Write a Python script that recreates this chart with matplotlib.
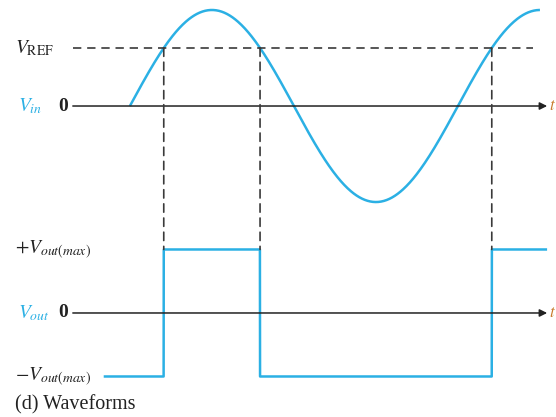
import numpy as np
import matplotlib
matplotlib.use("Agg")
import matplotlib.pyplot as plt
from matplotlib.patches import ConnectionPatch

# waveform parameters (one period = 1.0)
period = 1.0
vin_amp = 1.0
vref = 0.604
vin_start, vin_end = 0.0, 1.25
vout_start, vout_end = -0.076, 1.268
vout_max = 1.0
axis_start, axis_end = -0.174, 1.272

# labels
vin_labels = [r"$V_{\mathrm{REF}}$", r"$V_{in}$"]
vout_labels = [r"$+V_{out(max)}$", r"$V_{out}$", r"$-V_{out(max)}$"]
caption = "(d) Waveforms"

cyan = "#2bb0e4"
dark = "#222222"
dash_col = "#3a3a3a"

plt.rcParams["font.family"] = "Liberation Serif"
plt.rcParams["mathtext.fontset"] = "stix"

t = np.linspace(vin_start, vin_end, 600)
vin = vin_amp * np.sin(2 * np.pi * t / period)

ts = np.linspace(vout_start, vout_end, 3000)
vout = np.where(np.sin(2 * np.pi * ts / period) > vref, vout_max, -vout_max)
vout[ts < 0] = -vout_max

# crossing times where vin = vref
c1 = np.arcsin(vref) / (2 * np.pi) * period
crossings = [c1, period / 2 - c1, period + c1]

fig = plt.figure(figsize=(5.56, 4.17), dpi=100)
xl = (-0.396, 1.299)
ax1 = fig.add_axes([0, 1 - 215 / 417, 1, 215 / 417])
ax2 = fig.add_axes([0, 0, 1, 202 / 417])
ax1.set_xlim(xl)
ax1.set_ylim(-1.135, 1.104)
ax2.set_xlim(xl)
ax2.set_ylim(-1.638, 1.543)
for ax in (ax1, ax2):
    ax.axis("off")

# time axes with arrows
for ax in (ax1, ax2):
    ax.annotate("", xy=(axis_end, 0), xytext=(axis_start, 0),
                arrowprops=dict(arrowstyle="-|>", color=dark, lw=1.1,
                                mutation_scale=11, shrinkA=0, shrinkB=0))

# top: input sine and reference level
ax1.plot(t, vin, color=cyan, lw=1.8, solid_capstyle="butt")
ax1.plot([axis_start, crossings[-1] + 0.125], [vref, vref], color=dash_col,
         lw=1.2, ls=(0, (5, 3.5)))

# bottom: comparator output
ax2.plot(ts, vout, color=cyan, lw=1.8)

# dashed drop lines
for c in crossings:
    con = ConnectionPatch(xyA=(c, vref), coordsA=ax1.transData,
                          xyB=(c, vout_max), coordsB=ax2.transData,
                          color=dash_col, lw=1.2, ls=(0, (5, 3.5)))
    fig.add_artist(con)

fs = 14
tr1 = ax1.get_yaxis_transform()
tr2 = ax2.get_yaxis_transform()
ax1.text(0.027, vref, vin_labels[0], transform=tr1,
         fontsize=fs, va="center", ha="left", color=dark)
ax1.text(0.032, 0, vin_labels[1], transform=tr1,
         fontsize=fs, va="center", ha="left", color=cyan)
ax1.text(0.113, 0, "0", transform=tr1,
         fontsize=fs, va="center", ha="center", color=dark, weight="bold")
ax1.text(1.0, 0, r"$t$", transform=tr1,
         fontsize=fs - 2, va="center", ha="right", color="#c87a2a")

ax2.text(0.027, vout_max, vout_labels[0], transform=tr2,
         fontsize=fs, va="center", ha="left", color=dark)
ax2.text(0.032, 0, vout_labels[1], transform=tr2,
         fontsize=fs, va="center", ha="left", color=cyan)
ax2.text(0.113, 0, "0", transform=tr2,
         fontsize=fs, va="center", ha="center", color=dark, weight="bold")
ax2.text(1.0, 0, r"$t$", transform=tr2,
         fontsize=fs - 2, va="center", ha="right", color="#c87a2a")
ax2.text(0.027, -vout_max, vout_labels[2], transform=tr2,
         fontsize=fs, va="center", ha="left", color=dark)
ax2.text(0.027, -1.45, caption, transform=tr2,
         fontsize=14.5, va="center", ha="left", color=dark)

fig.savefig("out.png", dpi=100)
